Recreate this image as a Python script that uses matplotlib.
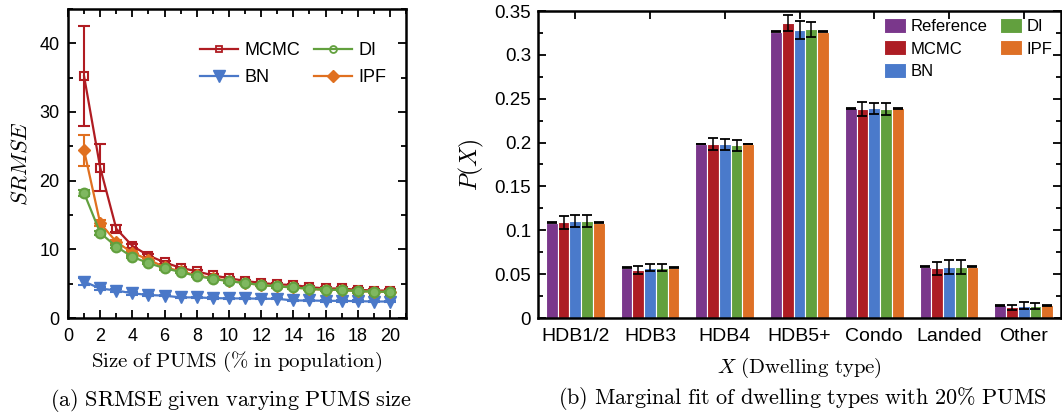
import matplotlib
matplotlib.use("Agg")
import matplotlib.pyplot as plt
import numpy as np
from matplotlib.ticker import MultipleLocator
from matplotlib.lines import Line2D

plt.rcParams['font.family'] = ['Liberation Sans', 'DejaVu Sans']
plt.rcParams['mathtext.fontset'] = 'cm'

# ---------------- data: panel (a) ----------------
pums_size = list(range(1, 21))
srmse_mcmc = [35.2, 21.9, 13.0, 10.5, 9.1, 8.1, 7.3, 6.8, 6.2, 5.8, 5.4, 5.1, 4.9, 4.8, 4.5, 4.3, 4.3, 4.1, 4.0, 4.0]
srmse_mcmc_err = [7.3, 3.45, 0.5, 0.3, 0.2, 0.2, 0.2, 0.2, 0.2, 0.2, 0.2, 0.2, 0.2, 0.2, 0.2, 0.2, 0.2, 0.2, 0.2, 0.2]
srmse_bn = [5.3, 4.3, 4.0, 3.6, 3.35, 3.25, 3.0, 3.0, 2.9, 2.85, 2.85, 2.8, 2.8, 2.55, 2.55, 2.5, 2.5, 2.45, 2.4, 2.4]
srmse_bn_err = [0.5, 0.2, 0.2, 0.2, 0.1, 0.1, 0.1, 0.1, 0.1, 0.1, 0.1, 0.1, 0.1, 0.1, 0.1, 0.1, 0.1, 0.1, 0.1, 0.1]
srmse_di = [18.2, 12.4, 10.4, 8.9, 8.0, 7.25, 6.7, 6.1, 5.7, 5.35, 5.1, 4.8, 4.6, 4.45, 4.25, 4.1, 4.1, 3.9, 3.85, 3.8]
srmse_di_err = [0.4, 0.3, 0.2, 0.2, 0.2, 0.2, 0.2, 0.2, 0.2, 0.2, 0.2, 0.2, 0.2, 0.2, 0.2, 0.2, 0.2, 0.2, 0.2, 0.2]
srmse_ipf = [24.4, 13.8, 11.1, 9.5, 8.5, 7.4, 6.8, 6.2, 5.8, 5.4, 5.1, 4.8, 4.6, 4.45, 4.25, 4.1, 4.1, 3.9, 3.85, 3.8]
srmse_ipf_err = [2.3, 0.4, 0.3, 0.3, 0.2, 0.2, 0.2, 0.2, 0.2, 0.2, 0.2, 0.2, 0.2, 0.2, 0.2, 0.2, 0.2, 0.2, 0.2, 0.2]

# ---------------- data: panel (b) ----------------
dwelling_types = ['HDB1/2', 'HDB3', 'HDB4', 'HDB5+', 'Condo', 'Landed', 'Other']
p_reference = [0.1087, 0.0574, 0.1984, 0.3265, 0.2390, 0.0585, 0.0144]
p_mcmc = [0.1090, 0.0547, 0.1980, 0.3360, 0.2383, 0.0566, 0.0122]
p_mcmc_err = [0.0070, 0.0048, 0.0067, 0.0090, 0.0085, 0.0076, 0.0030]
p_bn = [0.1106, 0.0574, 0.1980, 0.3284, 0.2390, 0.0580, 0.0137]
p_bn_err = [0.0072, 0.0040, 0.0060, 0.0100, 0.0065, 0.0078, 0.0040]
p_di = [0.1106, 0.0574, 0.1969, 0.3290, 0.2383, 0.0580, 0.0137]
p_di_err = [0.0072, 0.0040, 0.0060, 0.0090, 0.0070, 0.0078, 0.0030]
p_ipf = [0.1087, 0.0574, 0.1984, 0.3265, 0.2390, 0.0585, 0.0144]

W, H = 1062, 415
fig = plt.figure(figsize=(W / 100, H / 100), dpi=100)

# ---------------- panel (a) ----------------
ax1 = fig.add_axes([68 / W, (H - 318) / H, (406 - 68) / W, (318 - 9) / H])
c_red, c_blue, c_green, c_orange = '#b01c22', '#4a78c8', '#62a03e', '#e07020'
lw = 1.6
ekw = dict(capsize=4, capthick=1.5, elinewidth=1.5)
ax1.errorbar(pums_size, srmse_mcmc, yerr=srmse_mcmc_err, color=c_red, lw=lw, marker='s', ms=6,
             mfc='none', mew=1.5, zorder=3, **ekw)
ax1.errorbar(pums_size, srmse_bn, yerr=srmse_bn_err, color=c_blue, lw=lw, marker='v', ms=8,
             zorder=3, **ekw)
ax1.errorbar(pums_size, srmse_ipf, yerr=srmse_ipf_err, color=c_orange, lw=lw, marker='D', ms=6,
             zorder=4, **ekw)
ax1.errorbar(pums_size, srmse_di, yerr=srmse_di_err, color=c_green, lw=lw, marker='o', ms=7,
             mfc='#7fb860', mec=c_green, mew=1.5, zorder=5, **ekw)

ax1.set_xlim(0, 21)
ax1.set_ylim(0, 45)
ax1.xaxis.set_minor_locator(MultipleLocator(1))
ax1.yaxis.set_major_locator(MultipleLocator(10))
ax1.yaxis.set_minor_locator(MultipleLocator(5))
ax1.set_xticks(range(0, 21, 2))
ax1.tick_params(which='both', direction='in', top=True, right=True, width=1.3, labelsize=13)
ax1.tick_params(which='major', length=6)
ax1.tick_params(which='minor', length=3.5)
ax1.tick_params(axis='y', pad=6)
ax1.tick_params(axis='x', pad=7)
for s in ax1.spines.values():
    s.set_linewidth(1.8)
ax1.set_ylabel(r'$SRMSE$', fontsize=16, labelpad=6)
ax1.set_xlabel(r'$\mathrm{Size\ of\ PUMS\ (\%\ in\ population)}$', fontsize=15, labelpad=4)

leg_handles = [
    Line2D([], [], color=c_red, lw=lw, marker='s', ms=5, mfc='none', mew=1.3),
    Line2D([], [], color=c_blue, lw=lw, marker='v', ms=8),
    Line2D([], [], color=c_green, lw=lw, marker='o', ms=5, mfc='none', mew=1.3),
    Line2D([], [], color=c_orange, lw=lw, marker='D', ms=6),
]
ax1.legend(leg_handles, ['MCMC', 'BN', 'DI', 'IPF'], ncol=2, frameon=False, fontsize=13,
           loc='upper left', bbox_to_anchor=((200 - 68) / 338, (318 - 42) / 309),
           borderaxespad=0, borderpad=0, handlelength=2.1, handletextpad=0.35,
           columnspacing=0.8, labelspacing=0.55)

# ---------------- panel (b) ----------------
ax2 = fig.add_axes([538 / W, (H - 318) / H, (1061 - 538) / W, (318 - 11) / H])
series = [('Reference', p_reference, None, '#7a378b'),
          ('MCMC', p_mcmc, p_mcmc_err, '#ad1d24'),
          ('BN', p_bn, p_bn_err, '#4a7acb'),
          ('DI', p_di, p_di_err, '#62a03e'),
          ('IPF', p_ipf, None, '#de7026')]
x = np.arange(len(dwelling_types))
bw = 0.157
for i, (name, vals, err, col) in enumerate(series):
    xs = x + (i - 2) * bw
    ax2.bar(xs, vals, width=bw, color=col, edgecolor='white', linewidth=0.8, label=name, zorder=2)
    e = err if err is not None else [0.0003] * len(vals)
    ax2.errorbar(xs, vals, yerr=e, fmt='none', ecolor='black', elinewidth=1.1,
                 capsize=3.6, capthick=1.3, zorder=3)

ax2.set_xlim(-0.5, len(dwelling_types) - 0.5)
ax2.set_ylim(0, 0.35)
ax2.set_xticks(x)
ax2.set_xticklabels(dwelling_types)
ax2.yaxis.set_minor_locator(MultipleLocator(0.025))
ax2.set_yticks([0, 0.05, 0.1, 0.15, 0.2, 0.25, 0.3, 0.35])
ax2.set_yticklabels(['0', '0.05', '0.1', '0.15', '0.2', '0.25', '0.3', '0.35'])
ax2.tick_params(which='both', direction='in', top=True, right=True, width=1.3)
ax2.tick_params(axis='y', labelsize=13.5, pad=5)
ax2.tick_params(axis='x', labelsize=14, pad=7)
ax2.tick_params(which='major', length=6)
ax2.tick_params(which='minor', length=3.5)
for s in ax2.spines.values():
    s.set_linewidth(1.8)
ax2.set_ylabel(r'$P(X)$', fontsize=17, labelpad=6)
ax2.set_xlabel(r'$X\ \mathrm{(Dwelling\ type)}$', fontsize=15, labelpad=8)
ax2.legend(ncol=2, frameon=False, fontsize=12, loc='upper left',
           bbox_to_anchor=((884 - 538) / 523, (318 - 18) / 307),
           borderaxespad=0, borderpad=0, handlelength=1.32, handleheight=1.0,
           handletextpad=0.3, columnspacing=0.7, labelspacing=0.38)

# ---------------- captions ----------------
fig.text(231 / W, (H - 400) / H, r'$\mathrm{(a)\ SRMSE\ given\ varying\ PUMS\ size}$',
         ha='center', va='center', fontsize=16)
fig.text(802 / W, (H - 398) / H, r'$\mathrm{(b)\ Marginal\ fit\ of\ dwelling\ types\ with\ 20\%\ PUMS}$',
         ha='center', va='center', fontsize=16)

fig.savefig('out.png', dpi=100)
